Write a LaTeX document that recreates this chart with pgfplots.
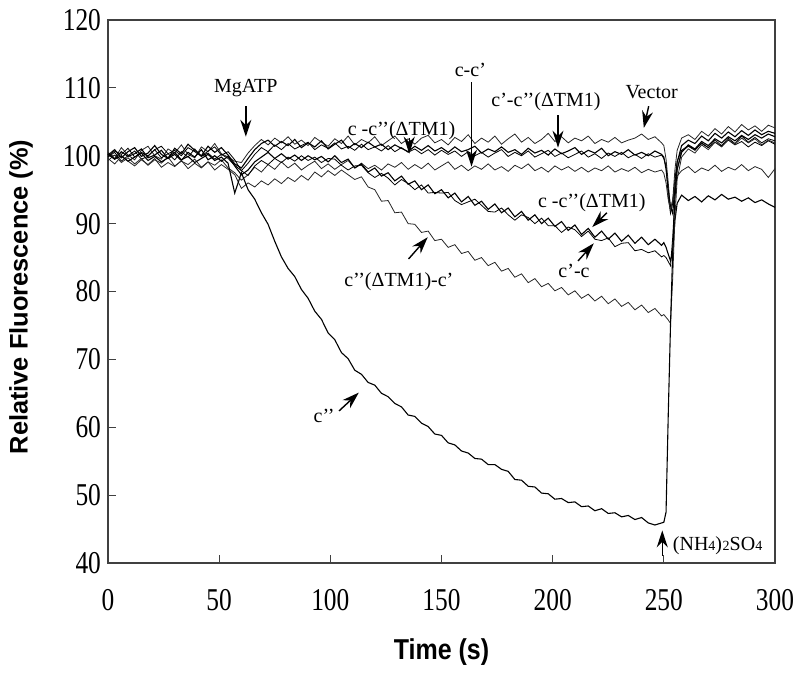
\documentclass[border=0pt]{standalone}
\usepackage{fontspec}
\setmainfont{Liberation Serif}
\newfontfamily\arialfont{Liberation Sans}
\usepackage{graphicx}
\usepackage{pgfplots}
\usepackage{pgfplotstable}
\pgfplotsset{compat=1.18}
\usetikzlibrary{arrows.meta}

% columns: A Vector, B c'-c''(dTM1), C c-c''(dTM1) upper, D c-c',
% E c-c''(dTM1) lower, F c'-c, G c''(dTM1)-c', H c''
\pgfplotstableread{
t A B C D E F G H
0 100.5 100.1 99.8 99.3 100.2 99.9 99.6 100.3
3 99.6 100.9 100.5 100.1 99.5 100.7 98.8 99.5
6 101.2 99.7 99.2 99.0 100.6 100.2 99.9 100.0
9 100.1 100.6 100.0 99.7 99.9 101.1 99.2 99.2
12 99.4 101.2 100.7 98.8 100.3 99.8 98.5 99.8
15 100.8 99.9 99.5 99.6 101.0 100.5 99.4 100.4
18 101.4 100.4 99.9 98.6 99.7 100.0 98.7 99.3
21 100.0 101.5 100.9 99.4 100.1 100.9 99.6 99.9
24 99.5 100.2 99.7 98.9 100.8 101.4 98.3 99.1
27 101.0 99.6 100.3 99.8 99.6 100.3 99.0 99.7
30 100.4 101.1 99.4 98.5 100.2 100.8 98.4 100.5
33 101.6 100.3 100.6 99.2 99.3 100.0 99.3 99.4
36 100.2 101.7 99.8 98.7 100.5 101.2 98.1 99.9
39 99.7 100.8 101.0 99.5 99.8 100.6 98.9 99.0
42 101.3 100.0 99.9 98.3 100.9 99.9 98.2 99.6
45 100.6 101.4 100.4 99.1 99.4 100.7 99.1 100.2
48 101.8 100.5 99.5 98.6 100.0 101.3 97.9 99.3
51 100.3 101.2 100.2 99.4 99.2 100.1 98.7 99.8
54 99.8 100.1 99.6 98.2 99.9 100.6 98.0 98.9
57 99.2 98.8 98.6 97.5 98.5 99.4 97.2 94.5
60 99.0 98.2 97.8 96.4 97.2 97.8 95.2 97.5
63 100.4 99.6 98.9 97.2 97.9 97.1 96.0 95.0
66 101.5 100.9 100.2 98.3 99.1 98.5 95.4 93.6
69 102.4 101.8 101.2 97.6 99.8 99.3 96.3 91.6
72 101.6 102.3 100.6 98.7 100.5 98.7 95.7 89.9
75 102.6 101.4 101.6 98.0 99.6 99.6 96.6 87.4
78 101.9 102.1 100.9 99.1 100.3 99.0 95.9 85.1
81 102.8 101.5 101.8 98.2 99.5 99.8 96.8 83.4
84 101.7 102.4 101.0 98.9 100.1 99.2 96.2 82.2
87 102.3 101.2 101.5 97.9 99.3 100.0 97.1 80.3
90 101.5 101.9 102.0 98.6 100.0 99.3 96.4 79.0
93 102.7 101.3 100.9 99.2 99.4 99.8 97.6 77.1
96 102.0 102.2 101.6 98.1 99.9 99.0 96.9 75.9
99 101.4 101.0 101.1 98.8 99.1 99.6 97.8 73.9
102 102.5 101.7 101.9 98.0 100.0 99.5 97.1 72.9
105 101.8 102.3 101.0 98.7 99.0 98.6 97.9 71.0
108 102.9 101.1 101.4 99.3 99.5 97.9 97.2 70.1
111 101.6 101.8 100.8 98.2 98.2 98.5 96.5 68.4
114 102.4 101.2 101.7 98.9 98.8 98.6 96.9 67.8
117 101.9 102.0 100.9 98.1 97.6 97.5 95.4 66.6
120 102.8 101.3 101.3 98.6 98.2 96.8 95.0 66.2
123 101.5 101.7 100.7 97.9 97.0 97.4 93.3 65.0
126 102.2 100.9 101.5 98.8 97.5 96.7 93.4 64.5
129 102.9 101.6 100.6 98.3 96.3 95.7 91.6 63.5
132 101.8 101.1 101.2 99.0 97.0 96.5 91.7 63.0
135 102.5 100.6 100.5 98.0 95.8 95.9 90.0 61.8
138 101.7 101.4 101.0 98.7 96.3 95.0 89.9 61.6
141 102.6 100.8 100.3 98.1 95.0 95.7 88.7 60.6
144 103.0 101.5 100.9 98.9 95.7 94.5 88.9 60.1
147 101.9 100.7 100.1 97.9 94.4 94.6 87.5 59.0
150 102.4 101.2 100.8 98.5 95.0 94.5 87.7 58.8
153 101.6 100.5 100.2 99.1 93.8 94.6 86.5 57.7
156 102.7 101.3 100.7 98.0 94.5 93.4 86.9 57.4
159 102.1 100.6 99.9 98.6 93.2 92.8 85.6 56.5
162 103.1 100.9 100.6 97.8 94.0 93.2 85.9 56.2
165 101.8 101.4 100.0 98.5 92.7 93.6 84.6 55.4
168 102.6 100.4 100.5 98.0 93.3 92.7 85.0 55.3
171 102.0 101.0 99.8 98.8 92.1 91.8 83.8 54.5
174 102.9 100.6 100.4 97.9 92.9 91.7 84.3 54.5
177 101.7 101.3 100.9 98.4 91.6 92.3 83.0 53.8
180 102.5 100.5 99.9 97.7 92.3 91.3 83.4 53.5
183 103.2 100.9 100.5 98.6 91.0 90.5 82.1 52.3
186 102.0 100.2 100.0 98.1 91.8 91.3 82.6 52.2
189 102.7 101.1 100.7 98.8 90.5 90.9 81.3 51.3
192 101.8 100.4 99.8 97.8 91.3 90.0 81.9 51.2
195 102.4 100.8 100.3 98.3 90.0 90.8 80.7 50.3
198 103.3 100.1 100.8 97.6 90.8 89.7 81.2 50.2
201 102.1 101.0 99.9 98.5 89.6 89.7 80.1 49.4
204 102.8 100.3 100.4 97.9 90.3 88.7 80.6 49.5
207 101.9 100.7 99.7 98.4 89.0 89.5 79.5 48.9
210 102.6 101.2 100.2 97.7 89.8 89.1 80.1 49.0
213 102.2 100.2 100.7 98.3 88.4 88.1 79.0 48.3
216 102.9 100.8 99.8 97.6 89.3 88.9 79.6 48.4
219 101.8 100.4 100.3 98.2 88.0 87.7 78.6 47.7
222 102.4 101.1 99.6 97.8 88.9 87.5 79.3 48.0
225 102.0 100.0 100.4 98.5 87.7 87.9 78.2 47.3
228 102.7 100.6 99.9 97.6 88.6 86.6 78.9 47.4
231 101.9 100.2 100.5 98.1 87.4 87.1 77.8 46.8
234 102.3 100.9 99.7 97.7 88.3 87.2 78.4 47.0
237 102.6 100.1 100.2 98.3 87.1 86.0 77.3 46.4
240 103.2 100.5 99.6 97.5 88.0 86.2 78.0 46.7
243 102.4 100.0 100.3 98.0 86.9 85.7 76.9 45.9
246 102.8 100.7 99.8 97.6 87.7 86.0 77.5 45.6
249 101.9 100.2 100.1 97.9 86.8 85.1 76.4 45.9
250 101.5 99.8 99.6 97.4 87.2 85.3 76.6 46.0
251 99.5 98.0 98.5 96.0 86.5 85.0 76.2 47.5
252 96.0 95.0 94.0 93.5 85.5 84.4 75.8 62.0
253 92.0 92.5 91.5 92.0 84.5 83.8 75.3 75.0
254 93.5 91.5 93.0 93.5 86.0 88.0 82.0 86.0
255 98.0 95.5 96.5 96.0 90.5 94.0 91.0 94.0
256 100.8 99.0 99.2 97.0 93.0 98.0 96.5 98.0
258 102.6 101.5 100.8 97.8 94.2 100.6 99.8 100.5
261 103.1 102.3 101.5 98.4 93.4 101.4 101.0 101.6
264 102.4 101.8 100.9 97.5 94.0 100.8 100.4 101.0
267 103.6 102.9 101.8 98.2 93.2 101.9 101.6 102.1
270 102.9 102.2 101.2 97.8 94.1 101.2 100.9 101.5
273 104.0 103.3 102.0 98.6 93.5 102.3 102.0 102.5
276 103.2 102.6 101.4 97.7 94.3 101.5 101.3 101.9
279 104.3 103.5 102.3 98.3 93.6 102.6 102.4 102.8
282 103.5 102.8 101.6 97.9 93.9 101.8 101.7 102.2
285 104.6 103.7 102.1 98.7 93.3 102.9 102.6 103.0
288 103.8 103.0 101.3 97.8 93.8 102.0 101.9 102.4
291 104.4 103.8 102.0 98.4 93.1 102.7 102.5 103.1
294 103.6 103.1 101.5 98.0 93.5 101.9 101.6 102.6
297 104.5 103.6 102.2 96.8 92.9 102.5 102.3 103.2
300 104.1 103.3 101.7 98.1 92.4 102.2 101.9 102.8
}\traces

\begin{document}
\begin{tikzpicture}[
    note/.style={font=\fontsize{10}{12}\selectfont, inner sep=0pt},
    arr/.style={-{Stealth[length=8.5pt,width=5.5pt]}, line width=0.7pt, black},
]
\begin{axis}[
    name=ax,
    scale only axis,
    width=333.5pt, height=271.5pt,
    xmin=0, xmax=300, ymin=40, ymax=120,
    xtick={0,50,...,300},
    ytick={40,50,...,120},
    tick pos=left,
    tick align=inside,
    major tick length=4pt,
    axis line style={black!75, line width=0.8pt},
    every tick/.style={black!75, line width=0.6pt},
    tick label style={font=\fontsize{12.7}{14}\selectfont},
    /pgf/number format/assume math mode=true,
    xticklabel={\scalebox{1}[1.25]{\pgfmathprintnumber{\tick}}},
    yticklabel={\scalebox{1}[1.25]{\pgfmathprintnumber{\tick}}},
    xticklabel style={yshift=-9.5pt},
    xlabel={\scalebox{1}[1.15]{Time (s)}},
    ylabel={Relative Fluorescence (\%)},
    xlabel style={at={(axis description cs:0.5,0)}, yshift=-44.5pt, anchor=center,
        font=\arialfont\bfseries\fontsize{12.5}{14}\selectfont},
    ylabel style={at={(axis description cs:-0.1304,0.49)}, anchor=center,
        font=\arialfont\bfseries\fontsize{12.7}{14}\selectfont},
    cycle list={{black!85, line width=0.55pt, mark=none}},
    no markers,
    clip=false,
]
\addplot table[x=t, y=A] {\traces};
\addplot table[x=t, y=B] {\traces};
\addplot table[x=t, y=C] {\traces};
\addplot table[x=t, y=D] {\traces};
\addplot table[x=t, y=E] {\traces};
\addplot table[x=t, y=F] {\traces};
\addplot table[x=t, y=G] {\traces};
\addplot table[x=t, y=H] {\traces};

% annotations
\node[note] at (axis cs:62,110) {MgATP};
\draw[arr] (axis cs:62,107.3) -- (axis cs:62,102.8);

\node[note] at (axis cs:132,103.7) {c -c’’(ΔTM1)};
\draw[arr] (axis cs:135.5,102.6) -- (axis cs:135.5,100.3);

\node[note] at (axis cs:163,112.7) {c-c’};
\draw[arr] (axis cs:163.5,110.8) -- (axis cs:163.5,98.4);

\node[note] at (axis cs:197,108) {c’-c’’(ΔTM1)};
\draw[arr] (axis cs:202.4,106) -- (axis cs:202.4,101.2);

\node[note] at (axis cs:244.5,109.4) {Vector};
\draw[arr] (axis cs:243.2,107.3) -- (axis cs:241,104.1);

\node[note] at (axis cs:217.6,93.1) {c -c’’(ΔTM1)};
\draw[arr] (axis cs:224.4,91.6) -- (axis cs:217.8,89.5);

\node[note] at (axis cs:209.6,83.1) {c’-c};
\draw[arr] (axis cs:211.4,84.5) -- (axis cs:218.5,87.1);

\node[note] at (axis cs:130.8,81.5) {c’’(ΔTM1)-c’};
\draw[arr] (axis cs:135.2,84.8) -- (axis cs:143.8,88.0);

\node[note] at (axis cs:97.2,61.7) {c’’};
\draw[arr] (axis cs:103.9,62.4) -- (axis cs:112.8,65.1);

\draw[arr] (axis cs:249.3,41.1) -- (axis cs:249.3,44.8);
\node[note, anchor=west] at (axis cs:253.9,42.6)
    {(NH{\fontsize{7}{8}\selectfont 4})\kern0.3pt{\fontsize{7}{8}\selectfont 2}SO{\fontsize{7}{8}\selectfont 4}};
\end{axis}
\pgfresetboundingbox
\path[use as bounding box] (ax.south west) ++(-54pt,-55.5pt) rectangle ++(400pt,337pt);
\end{tikzpicture}
\end{document}
